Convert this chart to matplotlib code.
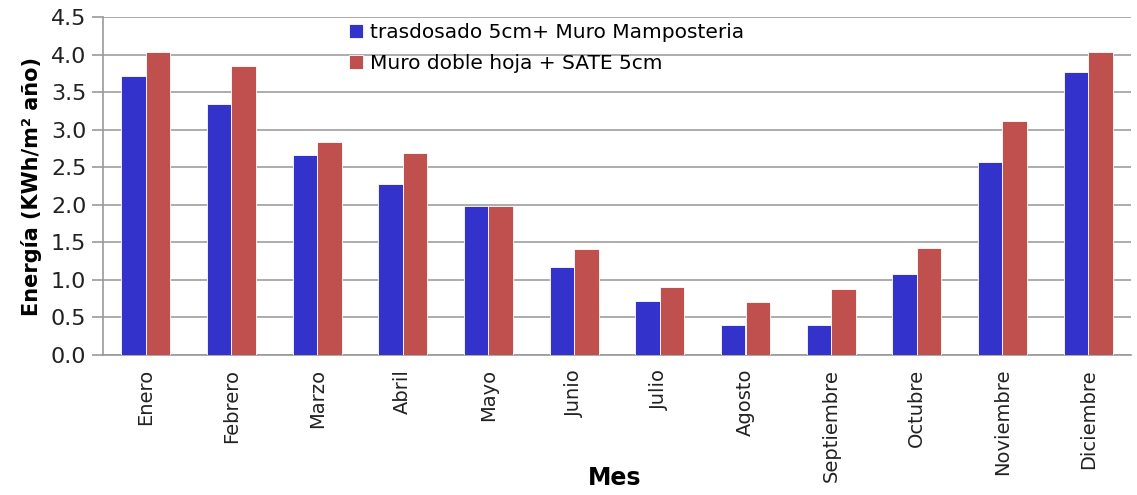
import matplotlib
matplotlib.use('Agg')
import matplotlib.pyplot as plt
import numpy as np

meses = ['Enero', 'Febrero', 'Marzo', 'Abril', 'Mayo', 'Junio', 'Julio',
         'Agosto', 'Septiembre', 'Octubre', 'Noviembre', 'Diciembre']
trasdosado = [3.72, 3.34, 2.66, 2.28, 1.99, 1.17, 0.72, 0.40, 0.40, 1.08, 2.57, 3.77]
sate = [4.04, 3.85, 2.84, 2.69, 1.99, 1.41, 0.91, 0.71, 0.88, 1.43, 3.12, 4.04]
serie_labels = ['trasdosado 5cm+ Muro Mamposteria', 'Muro doble hoja + SATE 5cm']
yticks = [0.0, 0.5, 1.0, 1.5, 2.0, 2.5, 3.0, 3.5, 4.0, 4.5]

plt.rcParams['font.family'] = ['DejaVu Sans']

fig = plt.figure(figsize=(11.37, 4.95), dpi=100)
ax = fig.add_axes([103 / 1137, 1 - 355 / 495, 1028 / 1137, 338 / 495])

x = np.arange(len(meses))
w = 0.286
ax.bar(x - w / 2, trasdosado, w, color='#3333CC', edgecolor='white', linewidth=0.6,
       label=serie_labels[0], zorder=3)
ax.bar(x + w / 2, sate, w, color='#C0504D', edgecolor='white', linewidth=0.6,
       label=serie_labels[1], zorder=3)

ax.set_xlim(-0.5, len(meses) - 0.5)
ax.set_ylim(0, 4.5)
ax.set_yticks(yticks)
ax.set_yticklabels(['%.1f' % v for v in yticks], fontsize=16, color='#222222')
ax.set_xticks(x)
ax.set_xticklabels(meses, rotation=90, fontsize=14, color='#222222')
ax.tick_params(axis='x', length=0, pad=10)
ax.tick_params(axis='y', length=8, color='#999999', width=1.2, pad=4)
ax.yaxis.grid(True, color='#a6a6a6', linewidth=1.3, zorder=0)
ax.set_axisbelow(True)

for s in ['top', 'right']:
    ax.spines[s].set_visible(False)
for s in ['left', 'bottom']:
    ax.spines[s].set_color('#999999')
    ax.spines[s].set_linewidth(1.2)

ax.set_ylabel('Energía (KWh/m² año)', fontsize=15, fontweight='bold', labelpad=6)
ax.set_xlabel('Mes', fontsize=17, fontweight='bold', va='center')
# el titulo del eje va encima de las etiquetas largas, como en el original
ax.xaxis.set_label_coords(0.498, (355 - 478) / 338)

leg = ax.legend(loc='upper left', bbox_to_anchor=(0.222, 1.035), frameon=False,
                fontsize=14.5, handlelength=0.7, handleheight=0.7, handletextpad=0.35,
                labelspacing=0.6)

fig.savefig('out.png', dpi=100)
